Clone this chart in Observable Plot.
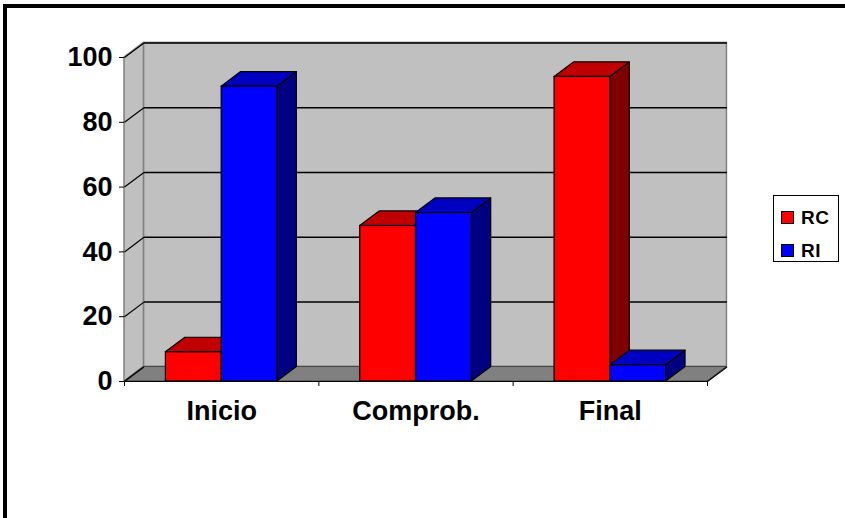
<!DOCTYPE html>
<html>
<head>
<meta charset="utf-8">
<script src="https://cdn.jsdelivr.net/npm/d3@7"></script>
<script src="https://cdn.jsdelivr.net/npm/@observablehq/plot@0.6"></script>
<style>
  html, body { margin: 0; padding: 0; background: #fff; overflow: hidden; width: 845px; height: 518px; }
  #wrap { position: relative; width: 845px; height: 518px; font-family: "Liberation Sans", Arial, sans-serif; }
  #frame { position: absolute; left: 3px; top: 4px; width: 900px; height: 600px; border-left: 4px solid #000; border-top: 4px solid #000; pointer-events: none; }
  #chart { position: absolute; left: 0; top: 0; }
  #legend { position: absolute; left: 773px; top: 195px; width: 64px; height: 65px; border: 1px solid #000; background: #fff; }
  .item { position: absolute; left: 7px; display: flex; align-items: center; }
  .sw { width: 11px; height: 11px; border: 1px solid #000; margin-right: 7px; }
  .lab { font-weight: bold; font-size: 19px; line-height: 19px; color: #000; letter-spacing: 0.5px; }
</style>
</head>
<body>
<div id="wrap">
  <div id="chart"></div>
  <div id="frame"></div>
  <div id="legend"></div>
</div>
<script>
// ---- data ----
const categories = ["Inicio", "Comprob.", "Final"];
const seriesNames = ["RC", "RI"];
const rcValues = [9, 48, 94];
const riValues = [91, 52, 5];
const yTicks = [0, 20, 40, 60, 80, 100];

// ---- styling ----
const faceColors = {
  RC: { front: "#FF0000", top: "#C00000", side: "#800000" },
  RI: { front: "#0000FF", top: "#0000C0", side: "#000080" }
};
const seriesValues = { RC: rcValues, RI: riValues };

// depth of the 3-D box, in data units (x: category units, y: value units)
const DX = 0.1, DY = 4.5;
const W = 0.287; // bar width in category units
const N = categories.length;

// build bar geometry from the data
const fronts = [], tops = [], sides = [];
seriesNames.forEach((s, si) => {
  seriesValues[s].forEach((v, i) => {
    const x0 = i + 0.5 - W + si * W;
    const id = s + "-" + i;
    fronts.push({ id, s, x1: x0, x2: x0 + W, y1: 0, y2: v });
    tops.push(
      { id, s, x: x0, lo: v, hi: v },
      { id, s, x: x0 + DX, lo: v, hi: v + DY },
      { id, s, x: x0 + W, lo: v, hi: v + DY },
      { id, s, x: x0 + W + DX, lo: v + DY, hi: v + DY }
    );
    sides.push(
      { id, s, x: x0 + W, lo: 0, hi: v },
      { id, s, x: x0 + W + DX, lo: DY, hi: v + DY }
    );
  });
});

// walls / floor
const leftWall = [{ x: 0, lo: 0, hi: 100 }, { x: DX, lo: DY, hi: 100 + DY }];
const floor = [
  { x: 0, lo: 0, hi: 0 }, { x: DX, lo: 0, hi: DY },
  { x: N, lo: 0, hi: DY }, { x: N + DX, lo: DY, hi: DY }
];
const grid = yTicks.filter(t => t > 0);

const marks = [
  Plot.rect([0], { x1: DX, x2: N + DX, y1: DY, y2: 100 + DY, fill: "#C0C0C0", stroke: "#808080", strokeWidth: 1.5 }),
  Plot.areaY(leftWall, { x: "x", y1: "lo", y2: "hi", fill: "#C0C0C0", stroke: "#808080", strokeWidth: 1.5 }),
  Plot.areaY(floor, { x: "x", y1: "lo", y2: "hi", fill: "#808080", stroke: "#404040", strokeWidth: 1 }),
  Plot.link(grid, { x1: DX, x2: N + DX, y1: d => d + DY, y2: d => d + DY, stroke: "#000", strokeWidth: 1.5 }),
  Plot.link(yTicks, { x1: 0, x2: DX, y1: d => d, y2: d => d + DY, stroke: "#000", strokeWidth: 1.2 }),
  Plot.link([0], { x1: N, x2: N + DX, y1: 0, y2: DY, stroke: "#000", strokeWidth: 1.2 }),
];

seriesNames.forEach(s => {
  const c = faceColors[s];
  marks.push(
    Plot.areaY(sides.filter(d => d.s === s), { x: "x", y1: "lo", y2: "hi", z: "id", fill: c.side, stroke: "#000", strokeWidth: 1.2, curve: "linear" }),
    Plot.areaY(tops.filter(d => d.s === s), { x: "x", y1: "lo", y2: "hi", z: "id", fill: c.top, stroke: "#000", strokeWidth: 1.2, curve: "linear" }),
    Plot.rect(fronts.filter(d => d.s === s), { x1: "x1", x2: "x2", y1: "y1", y2: "y2", fill: c.front, stroke: "#000", strokeWidth: 1.2 })
  );
});

marks.push(
  Plot.ruleY([0], { x1: 0, x2: N, stroke: "#000", strokeWidth: 1.2 }),
  Plot.axisX({ ticks: d3.range(0, N + 1), tickSize: 5, tickFormat: () => "", stroke: "#000" }),
  Plot.axisX({ ticks: categories.map((_, i) => i + 0.5), tickSize: 0, tickPadding: 19,
    tickFormat: d => categories[Math.floor(d)], fontSize: 27, fontWeight: "bold", fill: "#000", label: null }),
  Plot.axisY({ ticks: yTicks, tickSize: 5, tickPadding: 7, fontSize: 27, fontWeight: "bold", fill: "#000", stroke: "#000", label: null })
);

const chart = Plot.plot({
  width: 845,
  height: 518,
  marginLeft: 124,
  marginRight: 138,
  marginTop: 57,
  marginBottom: 137,
  x: { domain: [0, N], axis: null },
  y: { domain: [0, 100], axis: null },
  style: { background: "transparent", fontFamily: "'Liberation Sans', Arial, sans-serif", overflow: "visible" },
  marks
});
document.getElementById("chart").appendChild(chart);

// legend
const legend = document.getElementById("legend");
seriesNames.forEach((s, i) => {
  const item = document.createElement("div");
  item.className = "item";
  item.style.top = (12 + i * 33) + "px";
  const sw = document.createElement("div");
  sw.className = "sw";
  sw.style.background = faceColors[s].front;
  const lab = document.createElement("span");
  lab.className = "lab";
  lab.textContent = s;
  item.appendChild(sw);
  item.appendChild(lab);
  legend.appendChild(item);
});
</script>
</body>
</html>
